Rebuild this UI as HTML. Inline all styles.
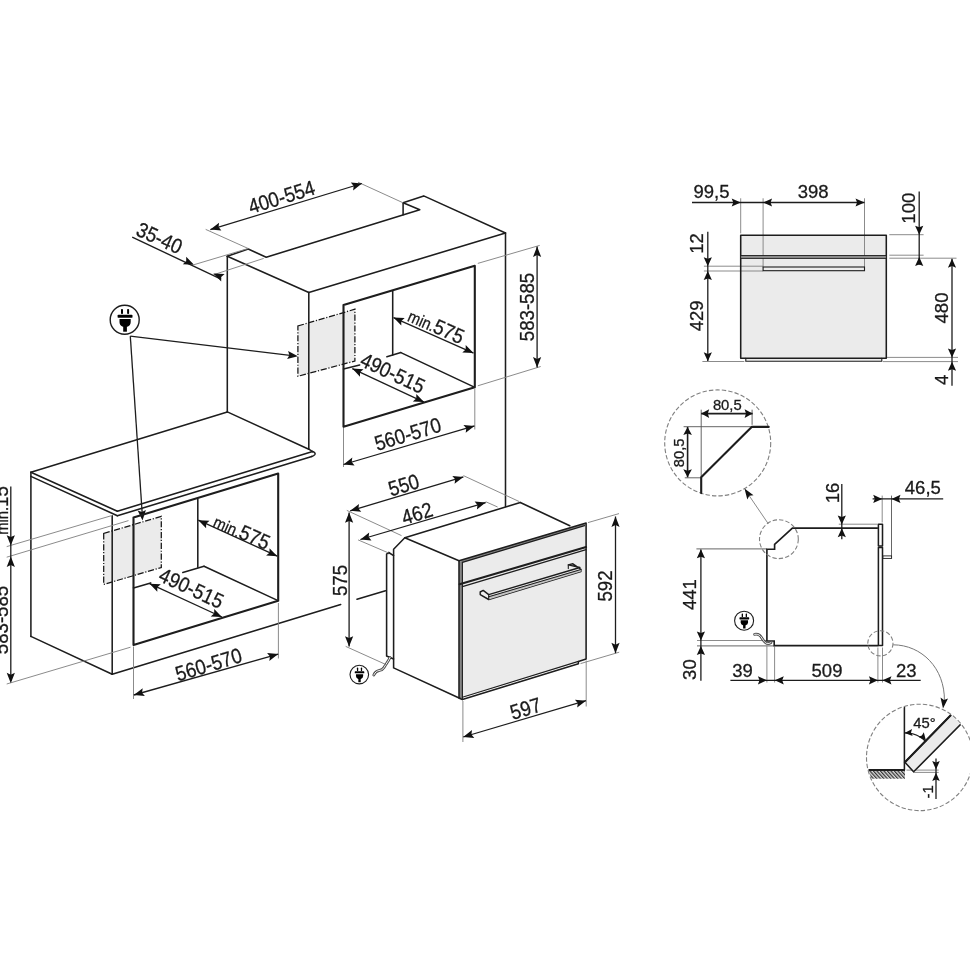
<!DOCTYPE html>
<html lang="en">
<head>
<meta charset="utf-8">
<title>Built-in oven installation dimensions</title>
<style>
html,body{margin:0;padding:0;background:#fff;}
body{width:970px;height:971px;overflow:hidden;}
svg{display:block;font-family:"Liberation Sans",sans-serif;}
.k{stroke:#1d1d1d;stroke-width:1.55;fill:none;stroke-linecap:round;stroke-linejoin:round;}
.kt{stroke:#1d1d1d;stroke-width:2.1;fill:none;stroke-linecap:round;stroke-linejoin:round;}
.d{stroke:#1d1d1d;stroke-width:1.3;fill:none;}
.t{stroke:#858585;stroke-width:0.95;fill:none;}
.dd{stroke:#151515;stroke-width:1.25;fill:none;stroke-dasharray:6.2 1.7 1.2 1.7;}
.dc{stroke:#808080;stroke-width:1.1;fill:none;stroke-dasharray:4.4 2.1;}
.g{fill:#ebebeb;stroke:none;}
.w{fill:#fff;stroke:none;}
.a{fill:#111;stroke:none;}
.k2{stroke:#1d1d1d;stroke-width:1.1;fill:none;stroke-linecap:round;}
.k3{stroke:#1d1d1d;stroke-width:1.65;fill:none;stroke-linejoin:miter;}
.t3{stroke:#777;stroke-width:1;fill:none;}
.t2{stroke:#555;stroke-width:0.9;fill:none;}
.d2{stroke:#1d1d1d;stroke-width:1.6;fill:none;}
.dk{fill:#858585;stroke:none;}
.hf{fill:#c4c4c4;stroke:none;}
.hd{fill:#f0f0f0;stroke:#1d1d1d;stroke-width:1.45;stroke-linejoin:round;}
.cb{stroke:#4d4d4d;stroke-width:2.8;fill:none;stroke-linecap:round;}
.cw{stroke:#f4f4f4;stroke-width:1;fill:none;stroke-linecap:round;}
text{fill:#1a1a1a;stroke:#1a1a1a;stroke-width:0.3;}
</style>
</head>
<body>
<svg width="970" height="971" viewBox="0 0 970 971">
<rect width="970" height="971" fill="#fff"/>
<g opacity="0.999">
<polygon class="g" points="297.9,326 354.9,309.2 354.9,361 297.9,376.3"/>
<polygon class="dd" points="297.9,326 354.9,309.2 354.9,361 297.9,376.3"/>
<polyline class="k" points="227.3,256.2 248.2,249 266.2,257.2 419.8,209.8 403.1,202.8 423.7,195.9 505.5,233"/>
<line class="k" x1="403.1" y1="202.8" x2="403.1" y2="214.8"/>
<line class="k" x1="227.3" y1="256.2" x2="308.8" y2="292.5"/>
<line class="k" x1="308.8" y1="292.5" x2="505.5" y2="233"/>
<line class="k" x1="227.3" y1="256.2" x2="227.3" y2="411.9"/>
<line class="k" x1="308.8" y1="292.5" x2="308.8" y2="449.2"/>
<line class="k" x1="505.5" y1="233" x2="505.5" y2="506.5"/>
<line class="k" x1="227.3" y1="411.9" x2="308.8" y2="449.2"/>
<polygon class="kt" points="343.5,305.1 474.8,265.8 474.8,387.2 343.5,426.8"/>
<line class="k" x1="392.7" y1="291" x2="392.7" y2="355.1"/>
<line class="k" x1="343.5" y1="369.1" x2="359.7" y2="365"/>
<line class="k" x1="386.9" y1="356.7" x2="400.9" y2="352.6"/>
<line class="k" x1="400.9" y1="352.6" x2="473.8" y2="386.9"/>
<line class="t" x1="205.7" y1="229.4" x2="248.2" y2="248.5"/>
<line class="t" x1="358" y1="182.2" x2="403.1" y2="202.8"/>
<line class="d" x1="210.3" y1="229.6" x2="361.9" y2="183.5"/>
<polygon class="a" points="210.3,229.6 219.1,222.7 218.5,227.1 221.4,230.5"/>
<polygon class="a" points="361.9,183.5 353.1,190.4 353.7,186 350.8,182.6"/>
<text transform="translate(281.5 196.8) rotate(-17) scale(0.888 1)" font-size="21" text-anchor="middle" y="7.5">400-554</text>
<line class="t" x1="194" y1="264.7" x2="248.2" y2="248.5"/>
<line class="t" x1="213.4" y1="274.8" x2="263.7" y2="258.4"/>
<line class="d" x1="132.2" y1="237.1" x2="221" y2="279.2"/>
<polygon class="a" points="194,264.7 182.8,264.2 186.2,261.2 186.2,256.7"/>
<polygon class="a" points="213.4,273.6 224.6,274.1 221.2,277.1 221.2,281.6"/>
<text transform="translate(159.5 237.8) rotate(24.5) scale(0.888 1)" font-size="21" text-anchor="middle" y="7.5">35-40</text>
<line class="t" x1="477.8" y1="263.4" x2="539.7" y2="245.4"/>
<line class="t" x1="477.8" y1="385.8" x2="540.7" y2="366.5"/>
<line class="d" x1="537.1" y1="246.6" x2="537.1" y2="367.5"/>
<polygon class="a" points="537.1,246.6 541.2,257 537.1,255.1 533,257"/>
<polygon class="a" points="537.1,367.5 533,357.1 537.1,359 541.2,357.1"/>
<text transform="translate(526.5 307) rotate(-90) scale(0.888 1)" font-size="21" text-anchor="middle" y="7.5">583-585</text>
<line class="d" x1="393.5" y1="317.6" x2="473.5" y2="353.1"/>
<polygon class="a" points="393.5,317.6 404.7,318.1 401.3,321.1 401.3,325.6"/>
<polygon class="a" points="473.5,353.1 462.3,352.6 465.7,349.6 465.7,345.1"/>
<text transform="translate(436.4 325.6) rotate(24) scale(0.888 1)" text-anchor="middle" y="7.5"><tspan font-size="16.6">min.</tspan><tspan font-size="21">575</tspan></text>
<line class="d" x1="352.3" y1="368.6" x2="424" y2="402.1"/>
<polygon class="a" points="352.3,368.6 363.5,369.3 360,372.2 360,376.7"/>
<polygon class="a" points="424,402.1 412.8,401.4 416.3,398.5 416.3,394"/>
<text transform="translate(392.9 372.8) rotate(25) scale(0.888 1)" font-size="21" text-anchor="middle" y="7.5">490-515</text>
<line class="t" x1="343.5" y1="428" x2="343.5" y2="467"/>
<line class="t" x1="474.8" y1="388.5" x2="474.8" y2="429.5"/>
<line class="d" x1="343.5" y1="464.5" x2="474.5" y2="425.9"/>
<polygon class="a" points="343.5,464.5 352.3,457.6 351.7,462.1 354.6,465.5"/>
<polygon class="a" points="474.5,425.9 465.7,432.8 466.3,428.3 463.4,424.9"/>
<text transform="translate(407.7 433.9) rotate(-17) scale(0.888 1)" font-size="21" text-anchor="middle" y="7.5">560-570</text>
<g transform="translate(124.7 319.8) scale(1.000)">
<circle r="14.5" fill="#fff" stroke="#1d1d1d" stroke-width="1.40"/>
<rect x="-3.7" y="-10.9" width="2" height="5.2" rx="0.8" fill="#000"/>
<rect x="2.4" y="-10.9" width="2" height="5.2" rx="0.8" fill="#000"/>
<rect x="-7.1" y="-5.1" width="14.9" height="3.1" rx="0.9" fill="#000"/>
<path d="M-5.2 -0.7 H6 V2.2 Q6 5.6 2.6 6.9 H-1.8 Q-5.2 5.6 -5.2 2.2 Z" fill="#000"/>
<rect x="-1.5" y="6" width="3.7" height="5.9" fill="#000"/>
</g>
<line class="d" x1="130.3" y1="336.1" x2="290" y2="355.3"/>
<polygon class="a" points="297.9,356.2 287.1,359 289.4,355.2 288.1,350.9"/>
<line class="d" x1="130.3" y1="336.1" x2="142.1" y2="512"/>
<polygon class="a" points="142.5,520.6 137.7,510.5 141.9,512.1 145.9,510"/>
<polygon class="g" points="103.7,533.4 161.3,516.4 161.3,567.5 103.7,584.4"/>
<polygon class="dd" points="103.7,533.4 161.3,516.4 161.3,567.5 103.7,584.4"/>
<line class="k" x1="30.9" y1="472.3" x2="227.3" y2="411.9"/>
<line class="k" x1="30.9" y1="472.3" x2="117.4" y2="511.3"/>
<line class="k" x1="30.9" y1="476.4" x2="117.4" y2="515.7"/>
<line class="k" x1="117.4" y1="511.3" x2="312.6" y2="451.6"/>
<line class="k" x1="117.4" y1="515.7" x2="311.8" y2="456.4"/>
<path class="k" d="M312.6 451.6 Q316 452.6 314.8 454.6 Q313.8 456 311.8 456.4"/>
<line class="k" x1="308.8" y1="449.2" x2="312.6" y2="451.6"/>
<line class="k" x1="30.9" y1="472.3" x2="30.9" y2="636.4"/>
<line class="k" x1="112.2" y1="515.7" x2="112.2" y2="674.2"/>
<line class="k" x1="30.9" y1="636.4" x2="112.2" y2="674.2"/>
<line class="k" x1="112.2" y1="674.2" x2="340.7" y2="604.6"/>
<line class="k" x1="357" y1="599.3" x2="385.5" y2="590.7"/>
<polygon class="kt" points="133.5,517.4 278.2,473.6 278.2,600.8 133.5,644.9"/>
<line class="k" x1="197.8" y1="499" x2="197.8" y2="567.3"/>
<line class="k" x1="133.5" y1="587.9" x2="150.7" y2="582.9"/>
<line class="k" x1="182.8" y1="572.5" x2="204" y2="566.3"/>
<line class="k" x1="204" y1="566.3" x2="277.5" y2="600.4"/>
<line class="d" x1="198.3" y1="520.2" x2="277.3" y2="556.2"/>
<polygon class="a" points="198.3,520.2 209.5,520.8 206.1,523.7 206.1,528.2"/>
<polygon class="a" points="277.3,556.2 266.1,555.6 269.5,552.7 269.5,548.2"/>
<text transform="translate(242 531.4) rotate(24) scale(0.888 1)" text-anchor="middle" y="7.5"><tspan font-size="16.6">min.</tspan><tspan font-size="21">575</tspan></text>
<line class="d" x1="149.6" y1="583.7" x2="221.9" y2="617"/>
<polygon class="a" points="149.6,583.7 160.8,584.3 157.3,587.3 157.3,591.8"/>
<polygon class="a" points="221.9,617 210.7,616.4 214.2,613.4 214.2,608.9"/>
<text transform="translate(191.5 588) rotate(25) scale(0.888 1)" font-size="21" text-anchor="middle" y="7.5">490-515</text>
<line class="t" x1="133.5" y1="646.5" x2="133.5" y2="699"/>
<line class="t" x1="278.4" y1="603" x2="278.4" y2="658.5"/>
<line class="d" x1="133.8" y1="695" x2="278.2" y2="654.1"/>
<polygon class="a" points="133.8,695 142.7,688.2 142,692.7 144.9,696.1"/>
<polygon class="a" points="278.2,654.1 269.3,660.9 270,656.4 267.1,653"/>
<text transform="translate(208.5 664.4) rotate(-17) scale(0.888 1)" font-size="21" text-anchor="middle" y="7.5">560-570</text>
<line class="t" x1="6.7" y1="546.6" x2="111" y2="515.8"/>
<line class="t" x1="6.7" y1="557.2" x2="128.5" y2="520.6"/>
<line class="t" x1="6.7" y1="684" x2="130.5" y2="647.2"/>
<line class="d" x1="10.8" y1="486.5" x2="10.8" y2="681"/>
<polygon class="a" points="10.8,545.6 6.7,535.2 10.8,537.1 14.9,535.2"/>
<polygon class="a" points="10.8,556.6 14.9,567 10.8,565.1 6.7,567"/>
<polygon class="a" points="10.8,683.2 6.7,672.8 10.8,674.7 14.9,672.8"/>
<text transform="translate(0.5 510.5) rotate(-90) scale(0.888 1)" text-anchor="middle" y="7.5"><tspan font-size="16.6">min.</tspan><tspan font-size="21">15</tspan></text>
<text transform="translate(0.2 620) rotate(-90) scale(0.888 1)" font-size="21" text-anchor="middle" y="7.5">583-585</text>
<polygon class="g" points="459,560.8 586.1,523 586.1,659 578.4,661.4 578.4,663.8 462.4,699.6 459,698"/>
<polygon class="dk" points="459,560.8 462.4,562.4 462.4,699.6 459,698"/>
<polygon class="dk" points="459,560.8 586.1,523 584.6,525.6 462.4,562.4"/>
<polygon class="w" points="462.4,699.6 578.4,663.8 578.4,661.2 462.4,696.9"/>
<polyline class="k" points="520.3,502.5 404.8,537.7 393.6,549.2 393.6,667.9 460.2,698.5"/>
<line class="k" x1="404.8" y1="537.7" x2="459" y2="560.8"/>
<line class="k" x1="520.3" y1="502.5" x2="569.8" y2="525.8"/>
<polyline class="k" points="393.6,555.6 388.7,552.5 386.6,554.2 386.6,656 393.6,659"/>
<line class="k" x1="388.7" y1="552.5" x2="388.7" y2="553.5"/>
<polygon class="k" points="459,560.8 586.1,523 586.1,659 578.4,661.4 578.4,663.8 462.4,699.6 459,698"/>
<line class="k2" x1="462.4" y1="562.4" x2="462.4" y2="699.6"/>
<line class="k2" x1="462.4" y1="562.4" x2="584.6" y2="525.6"/>
<line class="kt" x1="459.6" y1="584.3" x2="586.1" y2="547.1"/>
<line class="k2" x1="462.4" y1="586.6" x2="586.1" y2="549.6"/>
<line class="k2" x1="462.4" y1="697.2" x2="578.4" y2="661.4"/>
<polygon class="hd" points="480.2,592 483.2,590.4 488.7,594.6 579.9,567.5 568.3,564.9 572.9,563.8 580.9,569.4 580.9,571.6 488.7,599.5 480.2,594.6"/>
<polygon class="hf" points="488.7,596.7 580.9,569.5 580.9,571.6 488.7,599.5"/>
<line class="k2" x1="488.7" y1="594.6" x2="488.7" y2="599.5"/>
<line class="k2" x1="488.7" y1="596.7" x2="580.9" y2="569.5"/>
<line class="k2" x1="568.3" y1="564.9" x2="568.3" y2="568.6"/>
<path class="cb" d="M373.8 675 C377 668 381 672.5 384 667.5 S388.5 661 390 657.5"/>
<path class="cw" d="M373.8 675 C377 668 381 672.5 384 667.5 S388.5 661 390 657.5"/>
<g transform="translate(359.3 674.6) scale(0.641)">
<circle r="14.5" fill="#fff" stroke="#1d1d1d" stroke-width="1.72"/>
<rect x="-3.7" y="-10.9" width="2" height="5.2" rx="0.8" fill="#000"/>
<rect x="2.4" y="-10.9" width="2" height="5.2" rx="0.8" fill="#000"/>
<rect x="-7.1" y="-5.1" width="14.9" height="3.1" rx="0.9" fill="#000"/>
<path d="M-5.2 -0.7 H6 V2.2 Q6 5.6 2.6 6.9 H-1.8 Q-5.2 5.6 -5.2 2.2 Z" fill="#000"/>
<rect x="-1.5" y="6" width="3.7" height="5.9" fill="#000"/>
</g>
<line class="t" x1="346.8" y1="510.4" x2="401.5" y2="535.6"/>
<line class="t" x1="463.4" y1="475.6" x2="519.3" y2="501.6"/>
<line class="d" x1="350.2" y1="510.8" x2="463.4" y2="476.9"/>
<polygon class="a" points="350.2,510.8 359,503.9 358.4,508.4 361.3,511.7"/>
<polygon class="a" points="463.4,476.9 454.6,483.8 455.2,479.3 452.3,476"/>
<text transform="translate(403.7 484.8) rotate(-17) scale(0.888 1)" font-size="21" text-anchor="middle" y="7.5">550</text>
<line class="t" x1="358.1" y1="539.9" x2="388.7" y2="553"/>
<line class="t" x1="485.7" y1="501.7" x2="497.6" y2="507"/>
<line class="d" x1="360.4" y1="539.5" x2="485.7" y2="502.6"/>
<polygon class="a" points="360.4,539.5 369.2,532.6 368.6,537.1 371.5,540.5"/>
<polygon class="a" points="485.7,502.6 476.9,509.5 477.5,505 474.6,501.6"/>
<text transform="translate(417 513.2) rotate(-17) scale(0.888 1)" font-size="21" text-anchor="middle" y="7.5">462</text>
<line class="t" x1="345.7" y1="646.4" x2="386.5" y2="664.8"/>
<line class="d" x1="349.1" y1="512.4" x2="349.1" y2="646.6"/>
<polygon class="a" points="349.1,512.4 353.2,522.8 349.1,520.9 345,522.8"/>
<polygon class="a" points="349.1,646.6 345,636.2 349.1,638.1 353.2,636.2"/>
<text transform="translate(339.5 580.5) rotate(-90) scale(0.888 1)" font-size="21" text-anchor="middle" y="7.5">575</text>
<line class="t" x1="588" y1="522.6" x2="619" y2="513.6"/>
<line class="t" x1="580.5" y1="663.6" x2="619.2" y2="652.2"/>
<line class="d" x1="615.5" y1="516.5" x2="615.5" y2="653.2"/>
<polygon class="a" points="615.5,516.5 619.6,526.9 615.5,525 611.4,526.9"/>
<polygon class="a" points="615.5,653.2 611.4,642.8 615.5,644.7 619.6,642.8"/>
<text transform="translate(604.7 586) rotate(-90) scale(0.888 1)" font-size="21" text-anchor="middle" y="7.5">592</text>
<line class="t" x1="462.9" y1="701" x2="462.9" y2="742"/>
<line class="t" x1="586.2" y1="660.5" x2="586.2" y2="706.5"/>
<line class="d" x1="463.2" y1="737" x2="586" y2="700.7"/>
<polygon class="a" points="463.2,737 472,730.1 471.4,734.6 474.3,738"/>
<polygon class="a" points="586,700.7 577.2,707.6 577.8,703.1 574.9,699.7"/>
<text transform="translate(525.5 708.3) rotate(-17) scale(0.888 1)" font-size="21" text-anchor="middle" y="7.5">597</text>
<rect class="g" x="740.7" y="235.3" width="145.6" height="122.9"/>
<rect class="g" x="745.8" y="358.2" width="136" height="3"/>
<line class="t" x1="740.7" y1="198.3" x2="740.7" y2="233.4"/>
<line class="t" x1="763.1" y1="198.3" x2="763.1" y2="267.6"/>
<line class="t" x1="864.5" y1="198.3" x2="864.5" y2="267.6"/>
<line class="t" x1="889.3" y1="234.7" x2="923.6" y2="234.7"/>
<line class="t" x1="889.3" y1="255.2" x2="923.6" y2="255.2"/>
<line class="t" x1="889.3" y1="258.2" x2="956.5" y2="258.2"/>
<line class="t" x1="886.3" y1="357.4" x2="958" y2="357.4"/>
<line class="t" x1="883" y1="361.6" x2="958" y2="361.6"/>
<line class="t" x1="703.9" y1="266.2" x2="763.1" y2="266.2"/>
<line class="t" x1="703.9" y1="271" x2="763.1" y2="271"/>
<line class="t" x1="702.4" y1="361.5" x2="744.3" y2="361.5"/>
<rect class="k" x="740.7" y="235.3" width="145.6" height="122.9"/>
<rect x="740.7" y="255.5" width="145.6" height="2.9" fill="#8d8d8d" stroke="#1d1d1d" stroke-width="0.9"/>
<rect x="763.1" y="267" width="101.4" height="3.7" fill="#ededed" stroke="#1d1d1d" stroke-width="1.1"/>
<polyline class="k2" points="745.8,358.2 745.8,361.2 881.8,361.2 881.8,358.2"/>
<line class="d" x1="692" y1="202.5" x2="864.5" y2="202.5"/>
<polygon class="a" points="740.7,202.5 731.7,206.6 733.3,202.5 731.7,198.4"/>
<polygon class="a" points="763.1,202.5 772.1,198.4 770.5,202.5 772.1,206.6"/>
<polygon class="a" points="864.5,202.5 855.5,206.6 857.1,202.5 855.5,198.4"/>
<text transform="translate(711.5 191.2) rotate(0) scale(1.000 1)" font-size="18.5" text-anchor="middle" y="6.6">99,5</text>
<text transform="translate(813.2 191.2) rotate(0) scale(1.000 1)" font-size="18.5" text-anchor="middle" y="6.6">398</text>
<line class="d" x1="919.2" y1="191.4" x2="919.2" y2="264.8"/>
<polygon class="a" points="919.2,234.7 915.1,225.7 919.2,227.3 923.3,225.7"/>
<polygon class="a" points="919.2,257 923.3,266 919.2,264.4 915.1,266"/>
<text transform="translate(908.6 208.2) rotate(-90) scale(1.000 1)" font-size="18.5" text-anchor="middle" y="6.6">100</text>
<line class="d" x1="952" y1="258.7" x2="952" y2="385.7"/>
<polygon class="a" points="952,258.7 956.1,267.7 952,266.1 947.9,267.7"/>
<polygon class="a" points="952,357.4 947.9,348.4 952,350 956.1,348.4"/>
<polygon class="a" points="952,361.8 956.1,370.8 952,369.2 947.9,370.8"/>
<text transform="translate(941.7 308) rotate(-90) scale(1.000 1)" font-size="18.5" text-anchor="middle" y="6.6">480</text>
<text transform="translate(941.7 379.8) rotate(-90) scale(1.000 1)" font-size="18.5" text-anchor="middle" y="6.6">4</text>
<line class="d" x1="707.8" y1="231.7" x2="707.8" y2="360.9"/>
<polygon class="a" points="707.8,266.2 703.7,257.2 707.8,258.8 711.9,257.2"/>
<polygon class="a" points="707.8,271 711.9,280 707.8,278.4 703.7,280"/>
<polygon class="a" points="707.8,361.3 703.7,352.3 707.8,353.9 711.9,352.3"/>
<text transform="translate(696.6 243.4) rotate(-90) scale(1.000 1)" font-size="18.5" text-anchor="middle" y="6.6">12</text>
<text transform="translate(696.6 315.8) rotate(-90) scale(1.000 1)" font-size="18.5" text-anchor="middle" y="6.6">429</text>
<line class="t2" x1="696.4" y1="548.9" x2="766.8" y2="548.9"/>
<line class="t" x1="697" y1="640.5" x2="766.9" y2="640.5"/>
<line class="t2" x1="697" y1="645.9" x2="774.1" y2="645.9"/>
<line class="t" x1="766.9" y1="645.6" x2="766.9" y2="682.5"/>
<line class="t" x1="774.6" y1="646.5" x2="774.6" y2="682.5"/>
<line class="t" x1="877.9" y1="647.5" x2="877.9" y2="682.5"/>
<line class="t" x1="882.5" y1="647.5" x2="882.5" y2="682.5"/>
<line class="t" x1="838.8" y1="524.2" x2="877.5" y2="524.2"/>
<line class="t" x1="882.2" y1="495.6" x2="882.2" y2="522.5"/>
<line class="t2" x1="891.5" y1="495.6" x2="891.5" y2="557.4"/>
<polyline class="k3" points="877.9,528.1 792.4,528.1 774.6,544.4 774.6,549.2 766.9,549.2 766.9,641 774.2,641 774.2,645.6 878.4,645.6"/>
<rect class="k" x="878.4" y="524.2" width="4.1" height="21.8" fill="#fff"/>
<rect class="k" x="878.4" y="547.4" width="4.1" height="98" fill="#fff"/>
<rect x="883" y="555.9" width="8.6" height="2.5" fill="#fff" stroke="#1d1d1d" stroke-width="0.9"/>
<circle class="dc" cx="778.9" cy="539.2" r="19.4"/>
<circle class="dc" cx="880.4" cy="643.3" r="12.6"/>
<circle class="dc" cx="717.7" cy="442.9" r="53"/>
<circle class="dc" cx="919.7" cy="757.4" r="53.2"/>
<line class="t" x1="768.3" y1="523.8" x2="747" y2="492.5"/>
<polygon class="a" points="744.5,488.6 753.5,495.2 749.3,495.7 747.3,499.4"/>
<path class="t3" d="M893.2 644.8 C921.5 645 945 668 944.4 701"/>
<polygon class="a" points="943,708.4 940.5,697.5 944,699.9 948,698.4"/>
<path class="cb" d="M754.6 634.3 C760 633.5 761 637 763.5 640.5 S768 644.5 771 642.5"/>
<path class="cw" d="M754.6 634.3 C760 633.5 761 637 763.5 640.5 S768 644.5 771 642.5"/>
<g transform="translate(744.1 620.7) scale(0.655)">
<circle r="14.5" fill="#fff" stroke="#1d1d1d" stroke-width="1.68"/>
<rect x="-3.7" y="-10.9" width="2" height="5.2" rx="0.8" fill="#000"/>
<rect x="2.4" y="-10.9" width="2" height="5.2" rx="0.8" fill="#000"/>
<rect x="-7.1" y="-5.1" width="14.9" height="3.1" rx="0.9" fill="#000"/>
<path d="M-5.2 -0.7 H6 V2.2 Q6 5.6 2.6 6.9 H-1.8 Q-5.2 5.6 -5.2 2.2 Z" fill="#000"/>
<rect x="-1.5" y="6" width="3.7" height="5.9" fill="#000"/>
</g>
<line class="d" x1="841.8" y1="484" x2="841.8" y2="539.3"/>
<polygon class="a" points="841.8,524.4 837.7,515.4 841.8,517 845.9,515.4"/>
<polygon class="a" points="841.8,528.2 845.9,537.2 841.8,535.6 837.7,537.2"/>
<text transform="translate(832.2 493) rotate(-90) scale(1.000 1)" font-size="18.5" text-anchor="middle" y="6.6">16</text>
<line class="d" x1="872.6" y1="498.9" x2="943.2" y2="498.9"/>
<polygon class="a" points="882.2,498.9 873.2,503 874.8,498.9 873.2,494.8"/>
<polygon class="a" points="891.5,498.9 900.5,494.8 898.9,498.9 900.5,503"/>
<text transform="translate(922.8 487.4) rotate(0) scale(1.000 1)" font-size="18.5" text-anchor="middle" y="6.6">46,5</text>
<line class="d" x1="700.9" y1="549.5" x2="700.9" y2="680.8"/>
<polygon class="a" points="700.9,549.3 705,558.3 700.9,556.7 696.8,558.3"/>
<polygon class="a" points="700.9,640.5 696.8,631.5 700.9,633.1 705,631.5"/>
<polygon class="a" points="700.9,646.1 705,655.1 700.9,653.5 696.8,655.1"/>
<text transform="translate(689.7 594.6) rotate(-90) scale(1.000 1)" font-size="18.5" text-anchor="middle" y="6.6">441</text>
<text transform="translate(689.6 669.6) rotate(-90) scale(1.000 1)" font-size="18.5" text-anchor="middle" y="6.6">30</text>
<line class="d" x1="730.4" y1="680.3" x2="920.7" y2="680.3"/>
<polygon class="a" points="766.9,680.3 757.9,684.4 759.5,680.3 757.9,676.2"/>
<polygon class="a" points="774.8,680.3 783.8,676.2 782.2,680.3 783.8,684.4"/>
<polygon class="a" points="877.9,680.3 868.9,684.4 870.5,680.3 868.9,676.2"/>
<polygon class="a" points="882.5,680.3 891.5,676.2 889.9,680.3 891.5,684.4"/>
<text transform="translate(742.6 670.6) rotate(0) scale(1.000 1)" font-size="18.5" text-anchor="middle" y="6.6">39</text>
<text transform="translate(827 670.6) rotate(0) scale(1.000 1)" font-size="18.5" text-anchor="middle" y="6.6">509</text>
<text transform="translate(906.2 670.6) rotate(0) scale(1.000 1)" font-size="18.5" text-anchor="middle" y="6.6">23</text>
<line class="t2" x1="701.2" y1="409.7" x2="701.2" y2="477.2"/>
<line class="t2" x1="752.1" y1="409.7" x2="752.1" y2="424.8"/>
<line class="t2" x1="683.6" y1="426.7" x2="751.7" y2="426.7"/>
<line class="t2" x1="684.8" y1="477.8" x2="701.2" y2="477.8"/>
<polyline class="kt" points="768.7,426.9 751.7,426.9 701.2,477.2 701.2,493.1"/>
<line class="d2" x1="701.2" y1="413.6" x2="752.6" y2="413.6"/>
<polygon class="a" points="701.2,413.6 709.2,409.3 707.8,413.6 709.2,417.9"/>
<polygon class="a" points="752.6,413.6 744.6,417.9 746,413.6 744.6,409.3"/>
<text transform="translate(727.3 404.9) rotate(0) scale(1.000 1)" font-size="14.8" text-anchor="middle" y="5.3">80,5</text>
<line class="d2" x1="687.6" y1="426.9" x2="687.6" y2="477.3"/>
<polygon class="a" points="687.6,426.9 691.9,434.9 687.6,433.5 683.3,434.9"/>
<polygon class="a" points="687.6,477.3 683.3,469.3 687.6,470.7 691.9,469.3"/>
<text transform="translate(678.9 452.8) rotate(-90) scale(1.000 1)" font-size="14.8" text-anchor="middle" y="5.3">80,5</text>
<clipPath id="cB"><circle cx="919.7" cy="757.4" r="52.6"/></clipPath>
<g clip-path="url(#cB)">
<pattern id="hz" width="2.6" height="2.6" patternUnits="userSpaceOnUse" patternTransform="rotate(-42)"><rect width="2.6" height="2.6" fill="#d8d8d8"/><rect width="1.2" height="2.6" fill="#333"/></pattern>
<rect x="868.6" y="770.4" width="36.4" height="8.3" fill="url(#hz)"/>
<line class="t" x1="906.5" y1="770.1" x2="938.7" y2="770.1"/>
<line class="t" x1="913.3" y1="772.4" x2="938.7" y2="772.4"/>
<polygon class="g" points="965,700.6 974.3,710.5 913.6,771.8 904.9,762.2"/>
<polygon class="k" points="965,700.6 974.3,710.5 913.6,771.8 904.9,762.2"/>
<line class="kt" x1="904.9" y1="762.2" x2="965" y2="700.6"/>
<line class="k" x1="904.4" y1="706.5" x2="904.4" y2="770"/>
<line class="kt" x1="867.8" y1="770" x2="904.1" y2="770"/>
</g>
<path class="k2" d="M905 732.9 A29.3 29.3 0 0 1 925.7 741.5"/>
<polygon class="a" points="904.6,733 912.1,728.9 911,732.5 912.7,735.9"/>
<polygon class="a" points="925.9,740.6 918.3,736.7 921.9,735.6 923.8,732.3"/>
<text transform="translate(924.5 722.8) rotate(0) scale(1.000 1)" font-size="14.8" text-anchor="middle" y="5.3">45&#176;</text>
<line class="d" x1="936" y1="758.5" x2="936" y2="798.9"/>
<polygon class="a" points="936,769.4 932.2,761.1 936,762.6 939.8,761.1"/>
<polygon class="a" points="936,772.8 939.8,781.1 936,779.6 932.2,781.1"/>
<text transform="translate(927.2 791.8) rotate(-90) scale(1.000 1)" font-size="14.8" text-anchor="middle" y="5.3">-1</text>
</g>
</svg>
</body>
</html>
